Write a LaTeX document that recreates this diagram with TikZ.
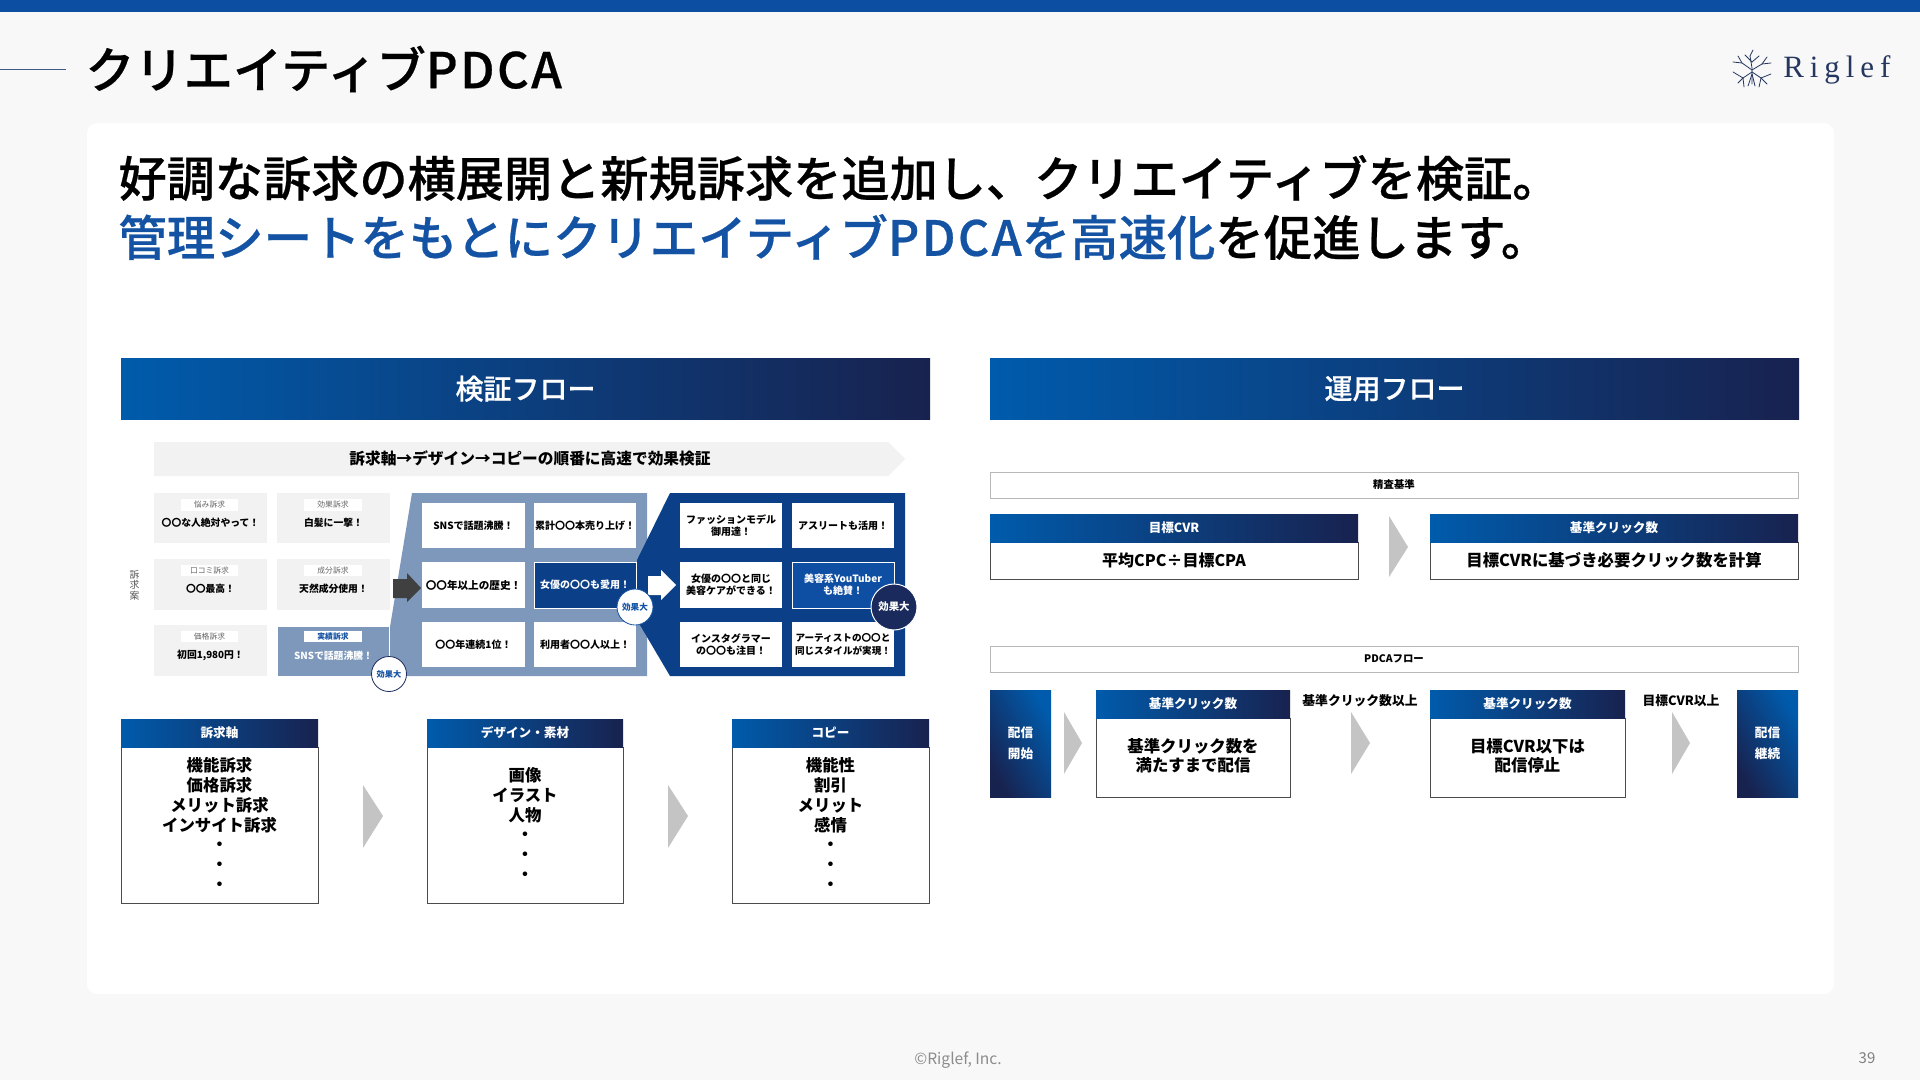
\documentclass[tikz,border=0pt]{standalone}
\usepackage{fontspec}
\setmainfont{Noto Sans CJK JP}
\newfontfamily\headf[FakeBold=0.5]{Noto Sans CJK JP Medium}
\newfontfamily\headsp[FakeBold=0.5,LetterSpace=5]{Noto Sans CJK JP Medium}
\newfontfamily\logofont[LetterSpace=19]{Liberation Serif}
\definecolor{bar}{HTML}{0B4EA2}
\definecolor{gA}{HTML}{005BAC}
\definecolor{gM}{HTML}{0B4C97}
\definecolor{gB}{HTML}{18224F}
\definecolor{blueT}{HTML}{1453A3}
\definecolor{bgc}{HTML}{F8F8F8}
\definecolor{cellg}{HTML}{F2F2F2}
\definecolor{midp}{HTML}{7E98BC}
\definecolor{darkp}{HTML}{0B3F88}
\definecolor{hilite}{HTML}{0F4FA3}
\definecolor{navy}{HTML}{1A2A5C}
\definecolor{logoc}{HTML}{26375F}
\newcommand\fs[2]{\fontsize{#1}{#2}\selectfont}
\newcommand\bx[7]{\node[bxbase,minimum width={(#4-#2)*0.5pt},minimum height={(#5-#3)*0.5pt},#6] (#1) at ({(#2+#4)/2},{(#3+#5)/2}) {#7};}
\newcommand\low[1]{\raisebox{-4pt}[0pt][0pt]{#1}}
\tikzset{
  bxbase/.style={inner sep=0pt,outer sep=0pt,align=center},
  grad/.style={left color=gA,middle color=gM,right color=gB,text=white},
  gradv/.style={shading=axis,left color=gA,middle color=gM,right color=gB,shading angle=-60,text=white},
  hd/.style={grad,font=\headf\fs{14}{16}},
  hs/.style={grad,font=\bfseries\fs{6.3}{8}},
  wbox/.style={fill=white,draw=black!70,line width=0.45pt},
  gbar/.style={fill=white,draw=black!28,line width=0.5pt,font=\bfseries\fs{5.2}{6.5}},
  cellG/.style={fill=cellg,font=\bfseries\fs{4.9}{6}},
  tagW/.style={fill=white,text=black!60,font=\fs{3.9}{5}},
  cellW/.style={fill=white,font=\bfseries\fs{5}{6.2}},
  circ/.style={circle,inner sep=0pt,outer sep=0pt,align=center},
  chev/.style={fill=black!23},
  lab/.style={font=\bfseries\fs{6.4}{8},inner sep=0pt},
  boxtxt/.style={inner sep=0pt,align=center,font=\bfseries\fs{8.2}{9.9}},
}
\begin{document}
\begin{tikzpicture}[x=0.5pt,y=-0.5pt]
\useasboundingbox (0,0) rectangle (1920,1080);
\fill[bgc] (0,0) rectangle (1920,1080);
\fill[bar] (0,0) rectangle (1920,12);
\fill[white,rounded corners=5pt] (87,123) rectangle (1834,994);
\draw[black!40!blueT!80!white,line width=0.5pt] (0,70) -- (66,70);
\node[anchor=west,inner sep=0pt,font=\headf\fs{24.6}{28}] (title) at (85,69) {クリエイティブ{\headsp PDCA}};
\node[anchor=west,inner sep=0pt,font=\headf\fs{24.1}{28}] (h1) at (118,178) {好調な訴求の横展開と新規訴求を追加し、クリエイティブを検証。};
\node[anchor=west,inner sep=0pt,font=\headf\fs{24.2}{28}] (h2) at (118,237) {\textcolor{blueT}{管理シートをもとにクリエイティブ{\headsp PDCA}を高速化}を促進します。};
% logo
\node[anchor=west,inner sep=0pt,text=logoc,font=\logofont\fs{15.5}{18}] (logo) at (1783,70) {Riglef};
\begin{scope}[logoc,line width=0.4pt,line cap=round]
\draw (1752,84)--(1752,68)--(1750,56)--(1753,50);
\draw (1752,70)--(1742,63)--(1733,62);
\draw (1742,63)--(1738,56);
\draw (1752,70)--(1762,64)--(1771,63);
\draw (1762,64)--(1767,57);
\draw (1752,72)--(1743,78)--(1733,72);
\draw (1743,78)--(1744,87);
\draw (1743,78)--(1738,83);
\draw (1752,72)--(1761,78)--(1771,74);
\draw (1761,78)--(1759,87);
\draw (1761,78)--(1767,84);
\draw (1752,74)--(1748,86);
\draw (1752,74)--(1755,86);
\draw (1752,62)--(1745,55);
\draw (1752,62)--(1759,56);
\end{scope}
% headers
\bx{hL}{121}{358.5}{930}{419}{hd}{検証フロー}
\bx{hR}{990}{358.5}{1799}{419}{hd}{運用フロー}
% chevron bar
\fill[cellg] (154,442) -- (888,442) -- (905,459) -- (888,476) -- (154,476) -- cycle;
\node[inner sep=0pt,font=\bfseries\fs{7.85}{9}] (flowT) at (530,458) {訴求軸→デザイン→コピーの順番に高速で効果検証};
% vertical label
\node[inner sep=0pt,align=center,text=black!65,font=\fs{4.9}{5.2}] (vl) at (134.5,585) {訴\\求\\案};
% mid panel / dark panel
\fill[midp] (412,493) -- (647,493) -- (647,676) -- (390,676) -- (390,627) -- cycle;
\fill[darkp] (670,493) -- (905,493) -- (905,676) -- (670,676) -- (637,620) -- (637,560) -- cycle;
% left cells
\bx{c11}{154}{493}{267}{543}{cellG}{\low{〇〇な人絶対やって！}}
\bx{c12}{277}{493}{390}{543}{cellG}{\low{白髪に一撃！}}
\bx{c21}{154}{559}{267}{610}{cellG}{\low{〇〇最高！}}
\bx{c22}{277}{559}{390}{610}{cellG}{\low{天然成分使用！}}
\bx{c31}{154}{625}{267}{676}{cellG}{\low{初回1,980円！}}
\bx{c32}{278}{627}{389}{676}{fill=midp,text=white,font=\bfseries\fs{4.9}{6}}{\low{SNSで話題沸騰！}}
\bx{t11}{181}{499}{238}{511}{tagW}{悩み訴求}
\bx{t12}{304}{499}{362}{511}{tagW}{効果訴求}
\bx{t21}{181}{565}{238}{576}{tagW}{口コミ訴求}
\bx{t22}{304}{565}{362}{576}{tagW}{成分訴求}
\bx{t31}{181}{631}{238}{642}{tagW}{価格訴求}
\bx{t32}{304}{631}{362}{642}{fill=white,text=blueT,font=\bfseries\fs{3.9}{5}}{実績訴求}
% arrows
\fill[black!75] (393,579) -- (407,579) -- (407,573) -- (421,588) -- (407,602) -- (407,598) -- (393,598) -- cycle;
\fill[white] (648,576) -- (661,576) -- (661,570) -- (676,585) -- (661,600) -- (661,595) -- (648,595) -- cycle;
% mid cells
\bx{m11}{422}{503}{525}{548}{cellW}{SNSで話題沸騰！}
\bx{m12}{534}{503}{636}{548}{cellW}{累計〇〇本売り上げ！}
\bx{m21}{422}{562}{525}{608}{cellW,font=\bfseries\fs{5.3}{6.2}}{〇〇年以上の歴史！}
\bx{m22}{534}{562}{636}{608}{fill=darkp,draw=white,line width=0.3pt,text=white,font=\bfseries\fs{5}{6.2}}{女優の〇〇も愛用！}
\bx{m31}{422}{622}{525}{667}{cellW}{〇〇年連続1位！}
\bx{m32}{534}{622}{636}{667}{cellW}{利用者〇〇人以上！}
% right cells
\bx{r11}{680}{503}{782}{548}{cellW}{ファッションモデル\\御用達！}
\bx{r12}{792}{503}{894}{548}{cellW}{アスリートも活用！}
\bx{r21}{680}{562}{782}{608}{cellW}{女優の〇〇と同じ\\美容ケアができる！}
\bx{r22}{792}{562}{894}{608}{fill=hilite,draw=white,line width=0.3pt,text=white,font=\bfseries\fs{5}{6.2}}{美容系YouTuber\\も絶賛！}
\bx{r31}{680}{622}{782}{667}{cellW}{インスタグラマー\\の〇〇も注目！}
\bx{r32}{792}{622}{894}{667}{cellW,font=\bfseries\fs{4.8}{6.2}}{アーティストの〇〇と\\同じスタイルが実現！}
% circles
\node[circ,minimum size=17.5pt,fill=white,draw=navy,line width=0.4pt,text=blueT,font=\bfseries\fs{4.1}{5}] (cL) at (389,674) {効果大};
\node[circ,minimum size=18pt,fill=white,draw=blueT,line width=0.4pt,text=blueT,font=\bfseries\fs{4.3}{5}] (cM) at (635,607) {効果大};
\node[circ,minimum size=23pt,fill=navy,draw=white,line width=0.5pt,text=white,font=\bfseries\fs{5.2}{6}] (cR) at (894,607) {効果大};
% bottom boxes
\bx{b1}{121}{747}{318}{903}{wbox}{}
\bx{b1h}{121}{719}{318}{747}{hs}{訴求軸}
\node[boxtxt] (b1t) at (219.5,824) {機能訴求\\価格訴求\\メリット訴求\\インサイト訴求\\・\\・\\・};
\bx{b2}{427}{747}{623}{903}{wbox}{}
\bx{b2h}{427}{719}{623}{747}{hs}{デザイン・素材}
\node[boxtxt] (b2t) at (525,824) {画像\\イラスト\\人物\\・\\・\\・};
\bx{b3}{732}{747}{929}{903}{wbox}{}
\bx{b3h}{732}{719}{929}{747}{hs}{コピー}
\node[boxtxt] (b3t) at (830.5,824) {機能性\\割引\\メリット\\感情\\・\\・\\・};
\fill[chev] (363,785) -- (383,816) -- (363,848) -- cycle;
\fill[chev] (668,785) -- (688,816) -- (668,848) -- cycle;
% right column
\bx{seisa}{990}{472}{1798}{498}{gbar}{精査基準}
\bx{r1b}{990}{542}{1358}{579}{wbox,font=\bfseries\fs{8}{10}}{平均CPC÷目標CPA}
\bx{r1h}{990}{514}{1358}{542}{hs}{目標CVR}
\bx{r2b}{1430}{542}{1798}{579}{wbox,font=\bfseries\fs{8.2}{10}}{目標CVRに基づき必要クリック数を計算}
\bx{r2h}{1430}{514}{1798}{542}{hs}{基準クリック数}
\fill[chev] (1389,516) -- (1408,547) -- (1389,577) -- cycle;
\bx{pdca}{990}{646}{1798}{672}{gbar}{PDCAフロー}
\bx{st}{990}{690}{1051}{797}{gradv,font=\bfseries\fs{6.3}{10.5}}{配信\\開始}
\bx{ab}{1096}{718}{1290}{797}{wbox}{}
\node[boxtxt,font=\bfseries\fs{8.2}{9.6}] (abt) at (1193,756) {基準クリック数を\\満たすまで配信};
\bx{ah}{1096}{690}{1290}{718}{hs}{基準クリック数}
\bx{bb}{1430}{718}{1625}{797}{wbox}{}
\node[boxtxt,font=\bfseries\fs{8.2}{9.6}] (bbt) at (1527.5,756) {目標CVR以下は\\配信停止};
\bx{bh}{1430}{690}{1625}{718}{hs}{基準クリック数}
\bx{en}{1737}{690}{1798}{797}{gradv,font=\bfseries\fs{6.3}{10.5}}{配信\\継続}
\fill[chev] (1064,712) -- (1082,743) -- (1064,774) -- cycle;
\fill[chev] (1351,712) -- (1370,743) -- (1351,774) -- cycle;
\fill[chev] (1672,712) -- (1690,743) -- (1672,774) -- cycle;
\node[lab] (l1) at (1360,701) {基準クリック数以上};
\node[lab] (l2) at (1681,701) {目標CVR以上};
% footer
\node[inner sep=0pt,text=black!45,font=\fs{7.8}{9}] (copy) at (958,1060) {©Riglef, Inc.};
\node[inner sep=0pt,text=black!50,font=\fs{7.5}{9}] (pg) at (1867,1058) {39};
\end{tikzpicture}
\end{document}
